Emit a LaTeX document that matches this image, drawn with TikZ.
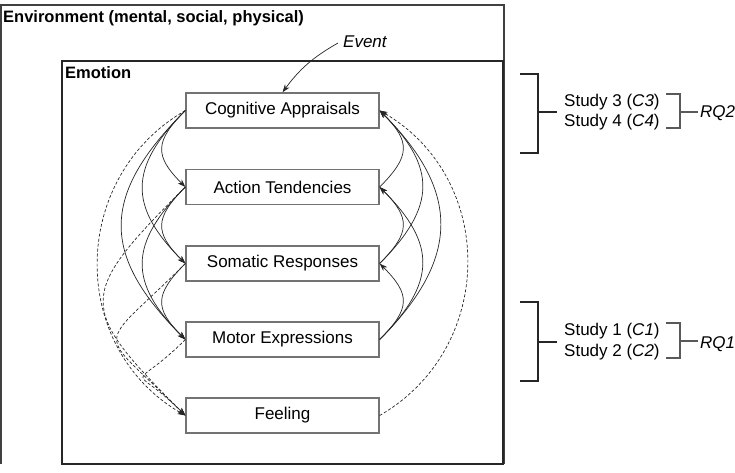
\documentclass[tikz,border=0pt]{standalone}
\usepackage{fontspec}
\setmainfont{Liberation Sans}
\usetikzlibrary{arrows.meta}
\begin{document}
\begin{tikzpicture}[x=1pt,y=1pt,
  box/.style={draw=black!55, line width=1.3pt, minimum width=193pt, minimum height=35pt, inner sep=0pt, fill=white, font=\fontsize{17}{20}\selectfont},
  arc/.style={line width=0.7pt, draw=black!85, -{Stealth[length=8pt,width=5.5pt]}},
  darc/.style={arc, dash pattern=on 3pt off 2pt},
  lbl/.style={font=\fontsize{17}{20}\selectfont, inner sep=0pt},
  hdr/.style={font=\fontsize{16.5}{20}\selectfont\bfseries, inner sep=0pt, anchor=west},
  brk/.style={line width=1.6pt, draw=black!85},
  sbrk/.style={line width=1.2pt, draw=black!65},
  bnd/.style={bend right=60, looseness=1.135},
  lc/.style={to path={.. controls +(-#1,-#1) and +(-#1,#1) .. (\tikztotarget) \tikztonodes}},
  rc/.style={to path={.. controls +(#1,#1) and +(#1,-#1) .. (\tikztotarget) \tikztonodes}}
]
\useasboundingbox (0,0) rectangle (735,-472);
% frames
\draw[line width=1.2pt, black!75] (1,-464) -- (1,-5) -- (504,-5) -- (504,-464);
\draw[line width=1.4pt, black!85] (62,-61) rectangle (503,-464);
\node[hdr] (env) at (3,-18) {Environment (mental, social, physical)};
\node[hdr] (emo) at (65,-73) {Emotion};
% components
\node[box] (ca) at (282.5,-110.5) {Cognitive Appraisals};
\node[box] (at) at (282.5,-187) {Action Tendencies};
\node[box] (sr) at (282.5,-263.5) {Somatic Responses};
\node[box] (me) at (282.5,-339.5) {Motor Expressions};
\node[box] (fe) at (282.5,-415.5) {Feeling};
% event
\node[lbl, anchor=west] (ev) at (343,-42) {\itshape Event};
\draw[arc] ([xshift=-5pt,yshift=-1pt]ev.west) to[bend right=12] (ca.north);
% left arcs
\foreach \a/\b/\k in {ca/at/31, at/sr/31, sr/me/31, ca/sr/57, at/me/57, ca/me/85}
  \draw[arc] (\a.west) to[lc=\k] (\b.west);
\foreach \a/\k in {at/109, sr/91, me/56}
  \draw[darc] (\a.west) to[lc=\k] (fe.west);
\draw[darc] (ca.west) to[bnd] (fe.west);
% right arcs
\foreach \a/\b/\k in {me/sr/31, sr/at/31, at/ca/31, me/at/57, sr/ca/57, me/ca/81}
  \draw[arc] (\a.east) to[rc=\k] (\b.east);
\draw[darc] (fe.east) to[bnd] (ca.east);
% upper bracket
\draw[brk] (520,-74) -- (538,-74) -- (538,-153) -- (520,-153);
\draw[brk] (538,-112) -- (557,-112);
\node[lbl, anchor=west] (s3) at (564,-102) {Study 3 (\textit{C3})};
\node[lbl, anchor=west] (s4) at (564,-122) {Study 4 (\textit{C4})};
\draw[sbrk] (666,-94) -- (680,-94) -- (680,-128) -- (666,-128);
\draw[sbrk] (680,-112) -- (698,-112);
\node[lbl, anchor=west] (rq2) at (700,-113) {\itshape RQ2};
% lower bracket
\draw[brk] (520,-302) -- (538,-302) -- (538,-381) -- (520,-381);
\draw[brk] (538,-342) -- (557,-342);
\node[lbl, anchor=west] (s1) at (564,-331) {Study 1 (\textit{C1})};
\node[lbl, anchor=west] (s2) at (564,-352) {Study 2 (\textit{C2})};
\draw[sbrk] (666,-323) -- (680,-323) -- (680,-358) -- (666,-358);
\draw[sbrk] (680,-341) -- (698,-341);
\node[lbl, anchor=west] (rq1) at (700,-344) {\itshape RQ1};
\end{tikzpicture}
\end{document}
